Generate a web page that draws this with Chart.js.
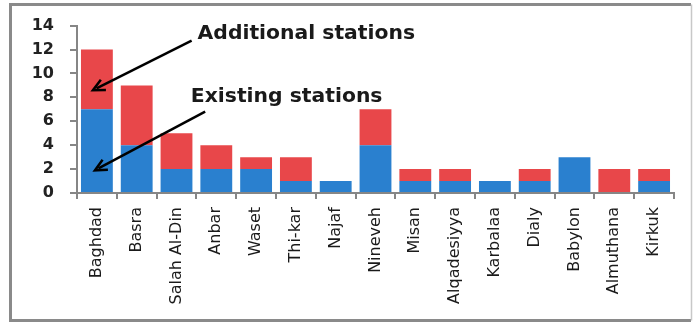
<!DOCTYPE html>
<html>
<head>
<meta charset="utf-8">
<script src="https://cdn.jsdelivr.net/npm/chart.js@4/dist/chart.umd.min.js"></script>
<style>
  html, body { margin: 0; padding: 0; background: #ffffff; }
  #wrap { width: 694px; height: 323px; position: relative; }
</style>
</head>
<body>
<div id="wrap"><canvas id="c" width="694" height="323"></canvas></div>
<script>
// ---- data ----
const categories = ["Baghdad", "Basra", "Salah Al-Din", "Anbar", "Waset", "Thi-kar", "Najaf", "Nineveh", "Misan", "Alqadesiyya", "Karbalaa", "Dialy", "Babylon", "Almuthana", "Kirkuk"];
const existingStations   = [7, 4, 2, 2, 2, 1, 1, 4, 1, 1, 1, 1, 3, 0, 1];
const additionalStations = [5, 5, 3, 2, 1, 2, 0, 3, 1, 1, 0, 1, 0, 2, 1];
const yTicks = [0, 2, 4, 6, 8, 10, 12, 14];

// annotation texts and arrows in data units (category index, value)
const noteTexts  = ["Additional stations", "Existing stations"];
const noteAnchor = [[2.53, 12.9], [2.36, 7.6]];
const arrowTail  = [[2.38, 12.75], [2.72, 6.8]];
const arrowTip   = [[-0.1, 8.6], [-0.05, 1.9]];

const frame = {
  id: 'frame',
  beforeDraw(chart) {
    const ctx = chart.ctx;
    ctx.save();
    ctx.fillStyle = '#ffffff';
    ctx.fillRect(0, 0, chart.width, chart.height);
    ctx.strokeStyle = '#8a8a8a';
    ctx.lineWidth = 3;
    ctx.beginPath();
    ctx.moveTo(691, 4.5);
    ctx.lineTo(10.5, 4.5);
    ctx.lineTo(10.5, 320.5);
    ctx.lineTo(691, 320.5);
    ctx.stroke();
    ctx.strokeStyle = '#c8c8c8';
    ctx.lineWidth = 1.5;
    ctx.beginPath();
    ctx.moveTo(691.5, 4.5);
    ctx.lineTo(691.5, 320.5);
    ctx.stroke();
    ctx.restore();
  }
};

const notes = {
  id: 'notes',
  afterDraw(chart) {
    const ctx = chart.ctx;
    const xs = chart.scales.x, ys = chart.scales.y;
    const px = (i) => xs.getPixelForValue(0) + i * (xs.getPixelForValue(1) - xs.getPixelForValue(0));
    ctx.save();
    ctx.fillStyle = '#1a1a1a';
    ctx.font = 'bold 19px "DejaVu Sans"';
    ctx.textBaseline = 'alphabetic';
    ctx.textAlign = 'left';
    noteTexts.forEach((t, k) => {
      ctx.save();
      ctx.translate(px(noteAnchor[k][0]), ys.getPixelForValue(noteAnchor[k][1]));
      ctx.scale(1.07, 1);
      ctx.fillText(t, 0, 0);
      ctx.restore();
    });
    ctx.strokeStyle = '#000000';
    ctx.lineWidth = 2.5;
    arrowTail.forEach((tail, k) => {
      const x1 = px(tail[0]), y1 = ys.getPixelForValue(tail[1]);
      const x2 = px(arrowTip[k][0]), y2 = ys.getPixelForValue(arrowTip[k][1]);
      const ang = Math.atan2(y2 - y1, x2 - x1);
      const hl = 13, hw = 0.45;
      ctx.beginPath();
      ctx.moveTo(x1, y1);
      ctx.lineTo(x2 - Math.cos(ang) * 4, y2 - Math.sin(ang) * 4);
      ctx.stroke();
      ctx.beginPath();
      ctx.moveTo(x2 - hl * Math.cos(ang - hw), y2 - hl * Math.sin(ang - hw));
      ctx.lineTo(x2, y2);
      ctx.lineTo(x2 - hl * Math.cos(ang + hw), y2 - hl * Math.sin(ang + hw));
      ctx.stroke();
    });
    ctx.restore();
  }
};

new Chart(document.getElementById('c'), {
  type: 'bar',
  data: {
    labels: categories,
    datasets: [
      { label: 'Existing stations', data: existingStations, backgroundColor: '#2a80cf', barPercentage: 0.8, categoryPercentage: 1.0 },
      { label: 'Additional stations', data: additionalStations, backgroundColor: '#e8474a', barPercentage: 0.8, categoryPercentage: 1.0 }
    ]
  },
  options: {
    responsive: false,
    animation: false,
    devicePixelRatio: 1,
    layout: { padding: { left: 0, top: 25, right: 20, bottom: 0 } },
    plugins: { legend: { display: false }, tooltip: { enabled: false } },
    scales: {
      x: {
        stacked: true,
        afterFit(s) { s.height = 130; },
        border: { display: true, color: '#868686', width: 2 },
        grid: { display: true, drawOnChartArea: false, drawTicks: true, tickLength: 6, color: '#868686', lineWidth: 2, offset: true },
        ticks: {
          autoSkip: false, minRotation: 90, maxRotation: 90, padding: 8,
          color: '#1a1a1a',
          font: { family: '"DejaVu Sans"', size: 16 }
        }
      },
      y: {
        stacked: true,
        min: 0, max: 14,
        afterFit(s) { s.width = 77; },
        afterBuildTicks(s) { s.ticks = yTicks.map(v => ({ value: v })); },
        border: { display: true, color: '#868686', width: 2 },
        grid: { display: true, drawOnChartArea: false, drawTicks: true, tickLength: 7, color: '#868686', lineWidth: 2 },
        ticks: {
          padding: 16,
          color: '#222222',
          font: { family: '"DejaVu Sans"', size: 16, weight: 'bold' }
        }
      }
    }
  },
  plugins: [frame, notes]
});
</script>
</body>
</html>
